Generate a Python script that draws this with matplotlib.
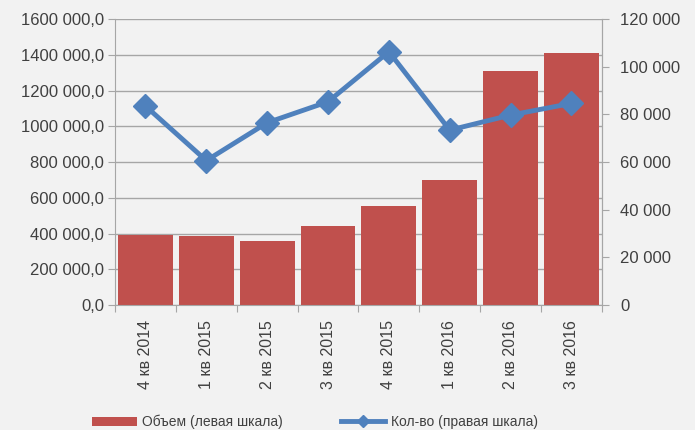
import numpy as np
import matplotlib.pyplot as plt
from matplotlib.ticker import FuncFormatter

plt.rcParams['font.family'] = ['Liberation Sans', 'DejaVu Sans']

# data
quarters = ["4 кв 2014", "1 кв 2015", "2 кв 2015", "3 кв 2015",
            "4 кв 2015", "1 кв 2016", "2 кв 2016", "3 кв 2016"]
volume = [391000, 384000, 356000, 440000, 554000, 697000, 1307000, 1408000]
count = [83500, 60600, 76500, 85300, 106300, 73400, 79700, 84600]

bg = "#F2F2F2"
txt = "#404040"
grid_c = "#A6A6A6"


def fmt_left(v, p):
    if v == 0:
        return "0,0"
    return "{:.0f} {:03.0f},0".format(v // 1000, v % 1000)


def fmt_right(v, p):
    if v == 0:
        return "0"
    return "{:.0f} {:03.0f}".format(v // 1000, v % 1000)


fig = plt.figure(figsize=(6.95, 4.3), dpi=100, facecolor=bg)
ax = fig.add_axes([0.1655, 0.2907, 0.7005, 0.665], facecolor=bg)
x = np.arange(len(quarters))

ax.bar(x, volume, width=0.9, color="#C0504D", zorder=2, label="Объем (левая шкала)")
ax.set_xlim(-0.5, len(quarters) - 0.5)
ax.set_ylim(0, 1600000)
ax.set_yticks(np.arange(0, 1600001, 200000))
ax.yaxis.set_major_formatter(FuncFormatter(fmt_left))
ax.grid(axis="y", color=grid_c, linewidth=1, zorder=0)
ax.set_axisbelow(True)

# ticks between categories, labels at centres
ax.set_xticks(np.arange(-0.5, len(quarters), 1))
ax.set_xticklabels([])
ax.set_xticks(x, minor=True)
ax.set_xticklabels(quarters, minor=True, rotation=90, fontsize=11.5, color=txt)
ax.tick_params(axis="x", which="minor", length=0, pad=11)
ax.tick_params(axis="x", which="major", length=5, color=grid_c, direction="out")
ax.tick_params(axis="y", length=5, color=grid_c, labelsize=12, labelcolor=txt, pad=3)

ax.spines["top"].set_visible(False)
for s in ["left", "bottom", "right"]:
    ax.spines[s].set_color(grid_c)

ax2 = ax.twinx()
ax2.plot(x, count, color="#4F81BD", linewidth=3.5, marker="D", markersize=12,
         zorder=3, label="Кол-во (правая шкала)")
ax2.set_ylim(0, 120000)
ax2.set_yticks(np.arange(0, 120001, 20000))
ax2.yaxis.set_major_formatter(FuncFormatter(fmt_right))
ax2.tick_params(axis="y", length=5, color=grid_c, labelsize=12, labelcolor=txt, pad=8)
for s in ["top", "left", "bottom"]:
    ax2.spines[s].set_visible(False)
ax2.spines["right"].set_color(grid_c)

h1, l1 = ax.get_legend_handles_labels()
h2, l2 = ax2.get_legend_handles_labels()
leg1 = fig.legend(h1, l1, loc="center left", bbox_to_anchor=(0.125, 0.018),
                  frameon=False, fontsize=10, handlelength=3.2, handleheight=0.6,
                  handletextpad=0.4, borderaxespad=0)
leg2 = fig.legend(h2, l2, loc="center left", bbox_to_anchor=(0.482, 0.018),
                  frameon=False, fontsize=10, handlelength=3.2,
                  handletextpad=0.4, markerscale=0.5, borderaxespad=0)
for leg in (leg1, leg2):
    for t in leg.get_texts():
        t.set_color(txt)

fig.savefig("out.png", dpi=100, facecolor=bg)
